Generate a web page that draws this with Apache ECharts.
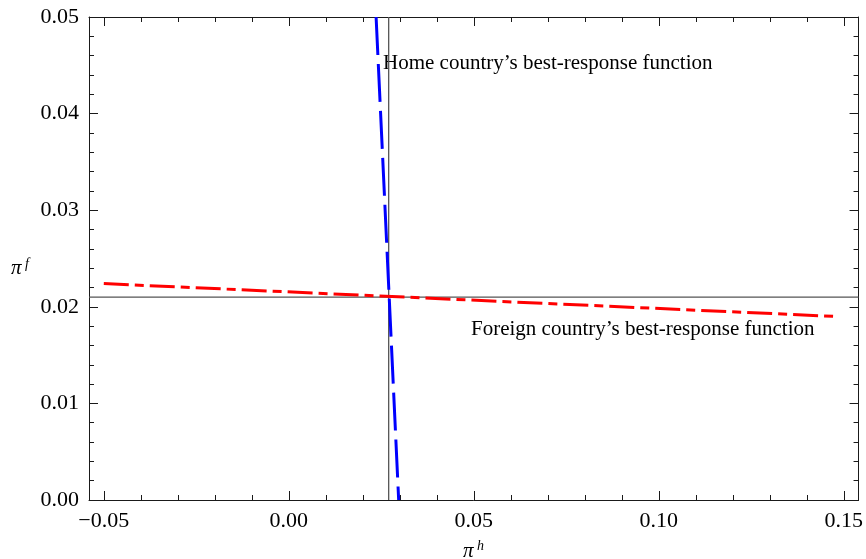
<!DOCTYPE html>
<html><head><meta charset="utf-8">
<script src="https://cdn.jsdelivr.net/npm/echarts@6/dist/echarts.min.js"></script>
<style>html,body{margin:0;padding:0;background:#fff}#c{width:866px;height:559px}</style>
</head><body><div id="c"></div>
<script>
// Data
var xMajor = [-0.05, 0.00, 0.05, 0.10, 0.15];
var xMinor = [-0.04,-0.03,-0.02,-0.01,0.01,0.02,0.03,0.04,0.06,0.07,0.08,0.09,0.11,0.12,0.13,0.14];
var yMajor = [0.00, 0.01, 0.02, 0.03, 0.04, 0.05];
var yMinor = [0.002,0.004,0.006,0.008,0.012,0.014,0.016,0.018,0.022,0.024,0.026,0.028,0.032,0.034,0.036,0.038,0.042,0.044,0.046,0.048];
var homeX = [0.0236, 0.0297];
var homeY = [0.05, 0.00];
var foreignX = [-0.05, 0.148];
var foreignY = [0.0224, 0.0190];
var eqX = 0.027;
var eqY = 0.021;
var xMin = -0.054, xMax = 0.154, yMin = 0, yMax = 0.05;

var FONT = '"Liberation Serif", "DejaVu Serif", serif';
var frameColor = '#1a1a1a';
function fmt(v){ var s = Math.abs(v).toFixed(2); return (v < -1e-9 ? '\u2212' : '') + s; }

function xAx(pos, major){
  return {
    type:'value', position:pos, min:xMin, max:xMax,
    axisLine:{show: major, onZero:false, lineStyle:{color:frameColor, width:1}},
    axisTick:{show:true, inside:true, length: major?9:5, customValues: major?xMajor:xMinor, lineStyle:{color:frameColor, width:1}},
    axisLabel:{show: major && pos==='bottom', customValues: major?xMajor:xMinor, formatter: fmt, fontFamily:FONT, fontSize:22, color:'#000', margin:10},
    splitLine:{show:false}
  };
}
function yAx(pos, major){
  return {
    type:'value', position:pos, min:yMin, max:yMax,
    axisLine:{show: major, onZero:false, lineStyle:{color:frameColor, width:1}},
    axisTick:{show:true, inside:true, length: major?9:5, customValues: major?yMajor:yMinor, lineStyle:{color:frameColor, width:1}},
    axisLabel:{show: major && pos==='left', customValues: major?yMajor:yMinor, formatter: fmt, fontFamily:FONT, fontSize:22, color:'#000', margin:10},
    splitLine:{show:false}
  };
}

var chart = echarts.init(document.getElementById('c'), null, {renderer:'canvas'});
chart.setOption({
  animation:false,
  backgroundColor:'#fff',
  grid:{left:89, right:4, top:17, bottom:59, containLabel:false},
  xAxis:[xAx('bottom',true), xAx('bottom',false), xAx('top',true), xAx('top',false)],
  yAxis:[yAx('left',true), yAx('left',false), yAx('right',true), yAx('right',false)],
  series:[
    {type:'line', name:'vref', data:[[eqX,yMin],[eqX,yMax]], symbol:'none', lineStyle:{color:'#555', width:1.3}, z:2},
    {type:'line', name:'href', data:[[xMin,eqY],[xMax,eqY]], symbol:'none', lineStyle:{color:'#555', width:1.3}, z:2},
    {type:'line', name:'Foreign', data: foreignX.map(function(x,i){return [x, foreignY[i]];}), symbol:'none',
      lineStyle:{color:'#ff0000', width:3, type:[25,6,9,6]}, z:3},
    {type:'line', name:'Home', data: homeX.map(function(x,i){return [x, homeY[i]];}), symbol:'none',
      lineStyle:{color:'#0000ff', width:3, type:[38,9]}, z:4}
  ],
  graphic:[
    {type:'text', left:383, top:53, style:{text:'Home country\u2019s best-response function', font:'21px '+FONT, fill:'#000'}},
    {type:'text', left:471, top:319, style:{text:'Foreign country\u2019s best-response function', font:'21px '+FONT, fill:'#000'}},
    {type:'text', left:463, top:541, style:{text:'\u03c0', font:'italic 21px '+FONT, fill:'#000'}},
    {type:'text', left:477, top:539, style:{text:'h', font:'italic 14px '+FONT, fill:'#000'}},
    {type:'text', left:11, top:258, style:{text:'\u03c0', font:'italic 21px '+FONT, fill:'#000'}},
    {type:'text', left:25, top:257, style:{text:'f', font:'italic 14px '+FONT, fill:'#000'}}
  ]
});
</script></body></html>
